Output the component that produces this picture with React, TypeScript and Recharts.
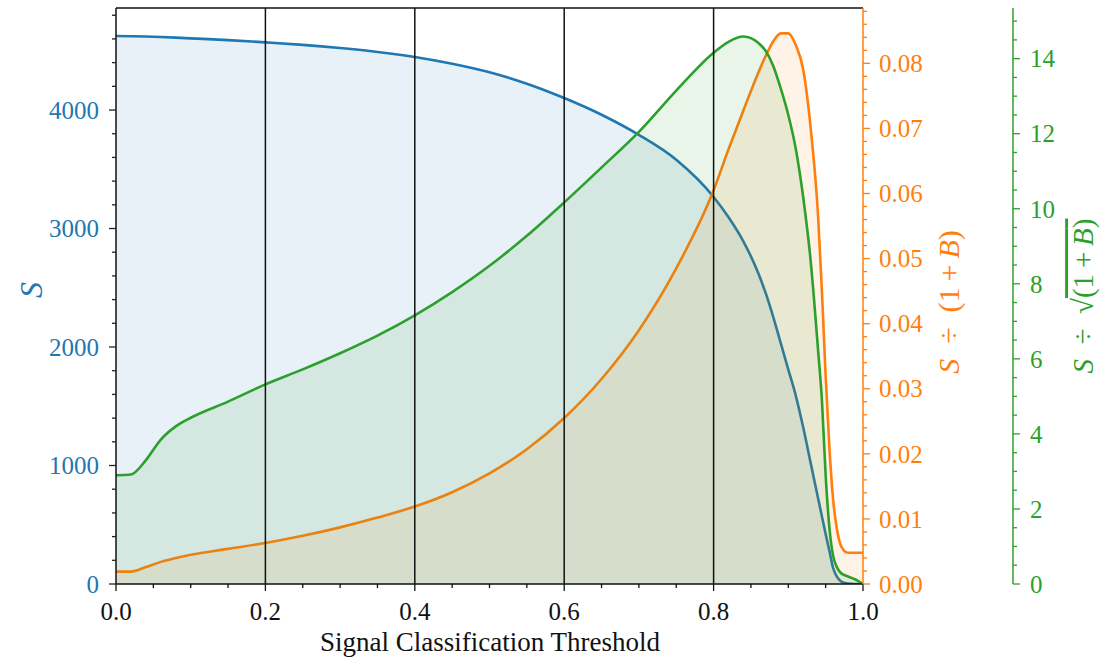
import {
  Area,
  ComposedChart,
  ReferenceLine,
  XAxis,
  YAxis,
} from "recharts";

const BLUE = "#1f77b4";
const ORANGE = "#ff7f0e";
const GREEN = "#2ca02c";
const SERIF = '"Liberation Serif", "DejaVu Serif", serif';

// classifier threshold scan
const thresholds = [
  0, 0.02, 0.04, 0.06, 0.08, 0.1, 0.15, 0.2, 0.25, 0.3, 0.35, 0.4, 0.45, 0.5,
  0.55, 0.6, 0.65, 0.7, 0.75, 0.8, 0.82, 0.84, 0.86, 0.87, 0.88, 0.89, 0.9,
  0.91, 0.92, 0.93, 0.94, 0.945, 0.95, 0.955, 0.96, 0.965, 0.97, 0.975, 0.98,
  0.99, 1.0,
];

// S
const signal = [
  4625, 4623, 4620, 4616, 4611, 4605, 4590, 4571, 4550, 4523, 4490, 4447, 4390,
  4318, 4222, 4101, 3960, 3790, 3580, 3266, 3095, 2890, 2620, 2450, 2250, 2030,
  1810, 1590, 1320, 1020, 720, 570, 422, 280, 135, 62, 25, 10, 3, 0, 0,
];

// S / (1 + B)
const sOverB = [
  0.0019, 0.0019, 0.0026, 0.0034, 0.004, 0.0045, 0.0054, 0.0063, 0.0074,
  0.0087, 0.0102, 0.0119, 0.0141, 0.017, 0.0207, 0.0255, 0.0315, 0.039,
  0.0485, 0.0605, 0.0668, 0.0728, 0.0786, 0.0812, 0.0834, 0.0846, 0.0846,
  0.0828, 0.079, 0.07, 0.0563, 0.045, 0.032, 0.021, 0.013, 0.0085, 0.006,
  0.0051, 0.0048, 0.0048, 0.0048,
];

// S / sqrt(1 + B)
const sOverSqrtB = [
  2.9, 2.92, 3.3, 3.85, 4.2, 4.43, 4.86, 5.32, 5.72, 6.15, 6.62, 7.16, 7.78,
  8.48, 9.28, 10.17, 11.1, 12.05, 13.15, 14.16, 14.45, 14.59, 14.42, 14.2, 13.8,
  13.2, 12.5, 11.6, 10.3, 8.6, 6.2, 4.9, 2.9, 1.5, 0.75, 0.45, 0.3, 0.24, 0.2,
  0.12, 0,
];

const xMajor = [0, 0.2, 0.4, 0.6, 0.8, 1.0];
const sMajor = [0, 1000, 2000, 3000, 4000];
const bMajor = [0, 0.01, 0.02, 0.03, 0.04, 0.05, 0.06, 0.07, 0.08];
const sqrtMajor = [0, 2, 4, 6, 8, 10, 12, 14];

const S_MAX = 4861;
const B_MAX = 0.0885;
const SQRT_MAX = 15.35;

const data = thresholds.map((t, i) => ({
  t,
  s: signal[i],
  sb: sOverB[i],
  ssb: sOverSqrtB[i],
}));

// evenly spaced minor tick positions between 0 and max
function minorTicks(step: number, max: number) {
  const out: number[] = [];
  for (let k = 0; k * step <= max + 1e-9; k++) out.push(+(k * step).toFixed(6));
  return out;
}

const isMajor = (v: number, majors: number[]) =>
  majors.some((m) => Math.abs(m - v) < 1e-9);

const XTick = (p: any) => {
  const v = p.payload.value;
  const major = isMajor(v, xMajor);
  return (
    <g>
      <line x1={p.x} x2={p.x} y1={p.y} y2={p.y + (major ? 7 : 4)} stroke="#111" strokeWidth={1.3} />
      {major && (
        <text x={p.x} y={p.y + 36} textAnchor="middle" fill="#111" fontSize={25} fontFamily={SERIF}>
          {v.toFixed(1)}
        </text>
      )}
    </g>
  );
};

const STick = (p: any) => {
  const v = p.payload.value;
  const major = isMajor(v, sMajor);
  return (
    <g>
      <line x1={p.x} x2={p.x - (major ? 7 : 4)} y1={p.y} y2={p.y} stroke="#222" strokeWidth={1.3} />
      {major && (
        <text x={p.x - 17} y={p.y} dy="0.35em" textAnchor="end" fill={BLUE} fontSize={25} fontFamily={SERIF}>
          {v}
        </text>
      )}
    </g>
  );
};

const BTick = (p: any) => {
  const v = p.payload.value;
  const major = isMajor(v, bMajor);
  return (
    <g>
      <line x1={p.x} x2={p.x + (major ? 7 : 4)} y1={p.y} y2={p.y} stroke={ORANGE} strokeWidth={1.3} />
      {major && (
        <text x={p.x + 16} y={p.y} dy="0.35em" textAnchor="start" fill={ORANGE} fontSize={25} fontFamily={SERIF}>
          {v.toFixed(2)}
        </text>
      )}
    </g>
  );
};

const SqrtTick = (p: any) => {
  const v = p.payload.value;
  const major = isMajor(v, sqrtMajor);
  return (
    <g>
      <line x1={p.x} x2={p.x + (major ? 7 : 4)} y1={p.y} y2={p.y} stroke={GREEN} strokeWidth={1.3} />
      {major && (
        <text x={p.x + 17} y={p.y} dy="0.35em" textAnchor="start" fill={GREEN} fontSize={25} fontFamily={SERIF}>
          {v}
        </text>
      )}
    </g>
  );
};

function AxisTitles() {
  return (
    <svg
      width={1104}
      height={659}
      style={{ position: "absolute", left: 0, top: 0, pointerEvents: "none" }}
    >
      <text x={490} y={651} textAnchor="middle" fontSize={27} fontFamily={SERIF} fill="#111">
        Signal Classification Threshold
      </text>
      <text
        transform="translate(31,290) rotate(-90)"
        textAnchor="middle"
        dy="0.35em"
        fontSize={32}
        fontFamily={SERIF}
        fill={BLUE}
        fontStyle="italic"
      >
        S
      </text>
      <text
        transform="translate(948,302) rotate(-90)"
        textAnchor="middle"
        dy="0.35em"
        fontSize={30}
        fontFamily={SERIF}
        fill={ORANGE}
      >
        <tspan fontStyle="italic">S</tspan>
        {"\u2002÷\u2002(1\u2009+\u2009"}
        <tspan fontStyle="italic">B</tspan>)
      </text>
      <text
        transform="translate(1083,296) rotate(-90)"
        textAnchor="middle"
        dy="0.35em"
        fontSize={29}
        fontFamily={SERIF}
        fill={GREEN}
      >
        <tspan fontStyle="italic">S</tspan>
        {"\u2002÷\u2002√"}
        <tspan style={{ textDecoration: "overline" }}>
          {"(1\u2009+\u2009"}
          <tspan fontStyle="italic">B</tspan>)
        </tspan>
      </text>
    </svg>
  );
}

export default function App() {
  return (
    <div style={{ position: "absolute", left: 0, top: 0, width: 1104, height: 659, background: "#fff" }}>
      <ComposedChart
        width={1104}
        height={659}
        data={data}
        margin={{ top: 8, right: 0, bottom: 0, left: 0 }}
      >
        <XAxis
          dataKey="t"
          type="number"
          domain={[0, 1]}
          ticks={minorTicks(0.05, 1)}
          interval={0}
          tickSize={0}
          tickMargin={0}
          tick={XTick}
          height={75}
          axisLine={{ stroke: "#111", strokeWidth: 1.5 }}
          allowDataOverflow
        />
        <YAxis
          yAxisId="s"
          orientation="left"
          width={116}
          domain={[0, S_MAX]}
          ticks={minorTicks(200, 4800)}
          interval={0}
          tickSize={0}
          tickMargin={0}
          tick={STick}
          axisLine={{ stroke: "#111", strokeWidth: 1.5 }}
          allowDataOverflow
        />
        <YAxis
          yAxisId="b"
          orientation="right"
          width={150}
          domain={[0, B_MAX]}
          ticks={minorTicks(0.002, 0.088)}
          interval={0}
          tickSize={0}
          tickMargin={0}
          tick={BTick}
          axisLine={{ stroke: ORANGE, strokeWidth: 1.5 }}
          allowDataOverflow
        />
        <YAxis
          yAxisId="sqrt"
          orientation="right"
          width={91}
          domain={[0, SQRT_MAX]}
          ticks={minorTicks(0.5, 15)}
          interval={0}
          tickSize={0}
          tickMargin={0}
          tick={SqrtTick}
          axisLine={{ stroke: GREEN, strokeWidth: 1.5 }}
          allowDataOverflow
        />
        {[0.2, 0.4, 0.6, 0.8].map((x) => (
          <ReferenceLine key={x} yAxisId="s" x={x} stroke="#111" strokeWidth={1.5} />
        ))}
        <ReferenceLine yAxisId="s" y={S_MAX} stroke="#111" strokeWidth={1.5} />
        <Area
          yAxisId="s"
          dataKey="s"
          type="monotone"
          stroke={BLUE}
          strokeWidth={2.6}
          fill={BLUE}
          fillOpacity={0.1}
          isAnimationActive={false}
          dot={false}
          activeDot={false}
        />
        <Area
          yAxisId="b"
          dataKey="sb"
          type="monotone"
          stroke={ORANGE}
          strokeWidth={2.6}
          fill={ORANGE}
          fillOpacity={0.1}
          isAnimationActive={false}
          dot={false}
          activeDot={false}
        />
        <Area
          yAxisId="sqrt"
          dataKey="ssb"
          type="monotone"
          stroke={GREEN}
          strokeWidth={2.6}
          fill={GREEN}
          fillOpacity={0.1}
          isAnimationActive={false}
          dot={false}
          activeDot={false}
        />
      </ComposedChart>
      <AxisTitles />
    </div>
  );
}
